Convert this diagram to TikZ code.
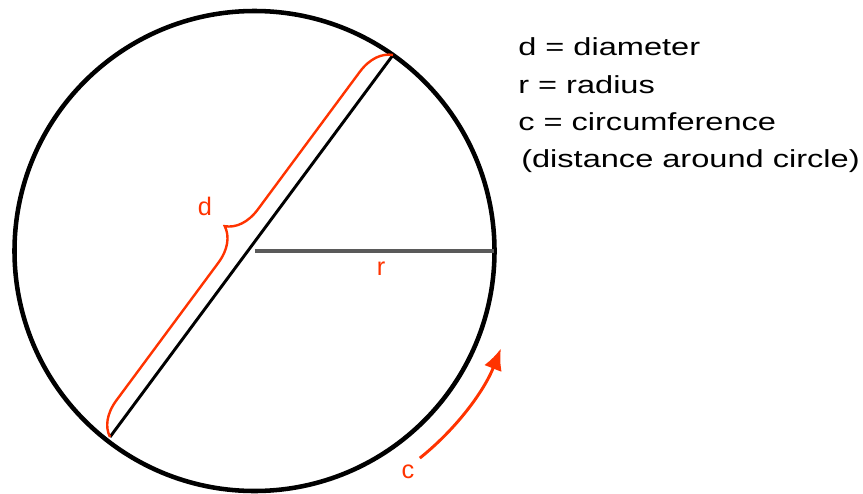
\documentclass[tikz,border=0pt]{standalone}
\usepackage{fontspec}
\usepackage{graphicx}
\setmainfont{Liberation Sans}
\usetikzlibrary{decorations.pathreplacing,arrows.meta,calc}
\definecolor{redc}{RGB}{255,51,0}
\definecolor{radgray}{RGB}{90,90,90}
\tikzset{
  lbl/.style={inner sep=0pt, text=redc, font=\fontsize{19}{21}\selectfont},
  legend/.style={inner sep=0pt, anchor=base west, font=\fontsize{18.5}{20}\selectfont},
}
\begin{document}
\begin{tikzpicture}[x=0.75pt,y=-0.75pt]
\useasboundingbox (0,0) rectangle (863,493);
\coordinate (c) at (254.5,251);
\coordinate (A) at (393,55);
\coordinate (B) at (110,437);
\coordinate (R) at (494,251);
% circle
\draw[line width=3.4pt] (c) circle[radius=240];
% radius
\draw[radgray, line width=2.6pt] (c) -- (R);
% diameter
\draw[black, line width=2.2pt] (B) -- (A);
% brace
\draw[redc, line width=1.8pt, decorate, decoration={brace, amplitude=25pt}] (B) -- (A);
% labels
\node[lbl] (dl) at (205,206) {d};
\node[lbl] (rl) at (381,269) {r};
\node[lbl] (cl) at (408,472) {c};
% circumference arrow
\coordinate (cs) at ($(c)+(51.4:265)$);
\draw[redc, line width=2.2pt, -{Latex[length=16pt,width=14pt]}] (cs) arc[start angle=51.4, end angle=21.6, radius=265];
% legend
\node[legend] (l1) at (518,55) {\scalebox{1.32}[1]{d = diameter}};
\node[legend] (l2) at (518,93) {\scalebox{1.32}[1]{r = radius}};
\node[legend] (l3) at (518,130) {\scalebox{1.32}[1]{c = circumference}};
\node[legend] (l4) at (521,167) {\scalebox{1.32}[1]{(distance around circle)}};
\end{tikzpicture}
\end{document}
